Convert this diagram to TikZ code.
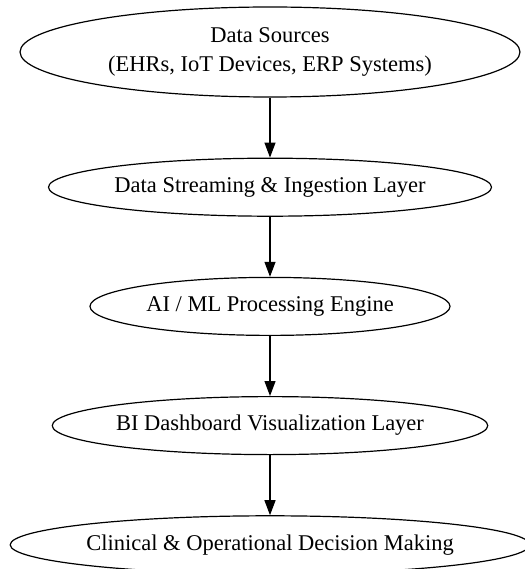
\documentclass[tikz,border=0pt]{standalone}
\usepackage{fontspec}
\setmainfont{Liberation Serif}
\usetikzlibrary{arrows.meta, positioning, shapes.geometric}

\begin{document}
\begin{tikzpicture}[->,>={Triangle[length=15pt,width=11pt]},shorten >=0pt,auto,node distance=60pt, line width=1.2pt,main node/.style={ellipse,draw,font=\fontsize{22.5}{29.5}\selectfont, align=center, inner sep=0pt, minimum height=58pt}]

  \useasboundingbox (0,0) rectangle (524pt,-569pt);

  \node[main node, minimum width=500pt, minimum height=90pt] (src) at (270pt,-52pt) {Data Sources\\(EHRs, IoT Devices, ERP Systems)};
  \node[main node, minimum width=443pt] (ingest) [below=of src] {Data Streaming \& Ingestion Layer};
  \node[main node, minimum width=360pt] (ml) [below=of ingest] {AI / ML Processing Engine};
  \node[main node, minimum width=433pt] (bi) [below=of ml] {BI Dashboard Visualization Layer};
  \node[main node, minimum width=514pt] (decide) [below=of bi] {Clinical \& Operational Decision Making};

  \path
       (src) edge (ingest)
       (ingest) edge (ml)
       (ml) edge (bi)
       (bi) edge (decide);
\end{tikzpicture}
\end{document}
